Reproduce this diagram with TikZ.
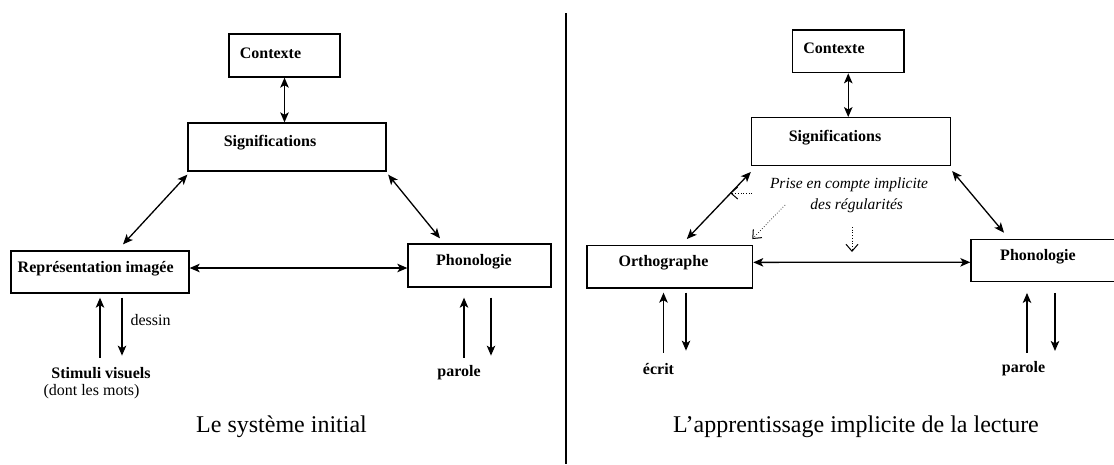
\documentclass[tikz,border=0pt]{standalone}
\usepackage{fontspec}
\setmainfont{Liberation Serif}
\usetikzlibrary{arrows.meta,calc}
\begin{document}
\begin{tikzpicture}[x=1pt,y=-1pt,
  box/.style={draw, line width=1.3pt, inner sep=0pt},
  tipS/.tip={Stealth[length=10pt,width=8.5pt,inset=2.5pt]},
  arr/.style={line width=1.3pt, -tipS},
  darr/.style={line width=1.3pt, tipS-tipS},
  dotarr/.style={dotted, line width=0.7pt, -{Straight Barb[length=7pt,width=12pt,line width=1pt]}},
  lbl/.style={font=\bfseries\fontsize{16}{18}\selectfont, inner sep=0pt},
  txt/.style={font=\fontsize{16}{18}\selectfont, inner sep=0pt},
  itx/.style={font=\itshape\fontsize{15.5}{18}\selectfont, inner sep=0pt},
  ttl/.style={font=\fontsize{24}{28}\selectfont, inner sep=0pt}]
\useasboundingbox (0,0) rectangle (1114,464);
% divider
\draw[line width=1.5pt] (566,13) -- (566,464);

% ---------- left panel ----------
\node[box, minimum width=111pt, minimum height=43pt] (ctxL) at (284.5,55.5) {};
\node[box, minimum width=198pt, minimum height=48pt] (sigL) at (287,147) {};
\node[box, minimum width=178pt, minimum height=42pt] (repL) at (100,272) {};
\node[box, minimum width=143pt, minimum height=43pt] (phL) at (479.5,265.5) {};
\node[lbl] at (270.5,53) {Contexte};
\node[lbl] at (270,143) {Significations};
\node[lbl] at (95.7,269) {Représentation imagée};
\node[lbl] at (474,262) {Phonologie};
\node[txt] (dessin) at (150.5,320) {dessin};
\node[lbl] (stim) at (101,373) {Stimuli visuels};
\node[txt] (dont) at (91.5,392) {(dont les mots)};
\node[lbl] (parL) at (459,373) {parole};
\node[ttl] (tL) at (281.5,427) {Le système initial};

\draw[darr] (ctxL.south) -- (ctxL.south |- sigL.north);
\draw[darr] ($(sigL.south west)+(0,3)$) -- ($(repL.north)+(23,-6)$);
\draw[darr] ($(sigL.south east)+(1.5,3)$) -- ($(phL.north)+(-39.5,-5)$);
\draw[darr] ($(repL.east)+(0,-4)$) -- ($(phL.west)+(0,2.5)$);
\draw[arr] ($(repL.south)+(0,64)$) -- ($(repL.south)+(0,4)$);
\draw[arr] ($(repL.south)+(22,4)$) -- ($(repL.south)+(22,62)$);
\draw[arr] ($(phL.south)+(-15.5,70)$) -- ($(phL.south)+(-15.5,10)$);
\draw[arr] ($(phL.south)+(11.5,10)$) -- ($(phL.south)+(11.5,68)$);

% ---------- right panel ----------
\node[box, minimum width=111.5pt, minimum height=42.7pt] (ctxR) at (848.25,51.35) {};
\node[box, minimum width=199pt, minimum height=47.6pt] (sigR) at (851,141.5) {};
\node[box, minimum width=165.6pt, minimum height=42.3pt] (ortR) at (669.8,266.85) {};
\node[box, minimum width=150pt, minimum height=42pt] (phR) at (1046,260.3) {};
\node[lbl] at (834,48) {Contexte};
\node[lbl] at (835,138) {Significations};
\node[lbl] at (663.5,263) {Orthographe};
\node[lbl] at (1038,257) {Phonologie};
\node[itx] (pr1) at (849,184.5) {Prise en compte implicite};
\node[itx] (pr2) at (856.7,205.5) {des régularités};
\node[lbl] (ecr) at (658.5,369) {écrit};
\node[lbl] (parR) at (1023.5,369) {parole};
\node[ttl] (tR) at (856,427) {L’apprentissage implicite de la lecture};

\draw[darr] (ctxR.south) -- (ctxR.south |- sigR.north);
\draw[darr] ($(sigR.south west)+(0,6)$) -- ($(ortR.north)+(17,-6)$);
\draw[darr] ($(sigR.south east)+(1,5)$) -- ($(phR.north)+(-42,-6)$);
\draw[darr] ($(ortR.east)+(0,-4.5)$) -- ($(phR.west)+(0,2)$);
\draw[arr] ($(ortR.south)+(-6.3,64)$) -- ($(ortR.south)+(-6.3,4)$);
\draw[arr] ($(ortR.south)+(16.2,4)$) -- ($(ortR.south)+(16.2,62)$);
\draw[arr] ($(phR.south)+(-19,71)$) -- ($(phR.south)+(-19,11)$);
\draw[arr] ($(phR.south)+(9,11)$) -- ($(phR.south)+(9,69)$);

% dotted implicit arrows
\coordinate (tickS) at (752,193);
\coordinate (tickE) at (730,193);
\coordinate (diagS) at (785,205);
\coordinate (downS) at (852,227);
\coordinate (downE) at (852,252);
\draw[dotarr] (tickS) -- (tickE);
\draw[dotarr] (diagS) -- ($(ortR.north east)+(-1,-6)$);
\draw[dotarr] (downS) -- (downE);
\end{tikzpicture}
\end{document}
